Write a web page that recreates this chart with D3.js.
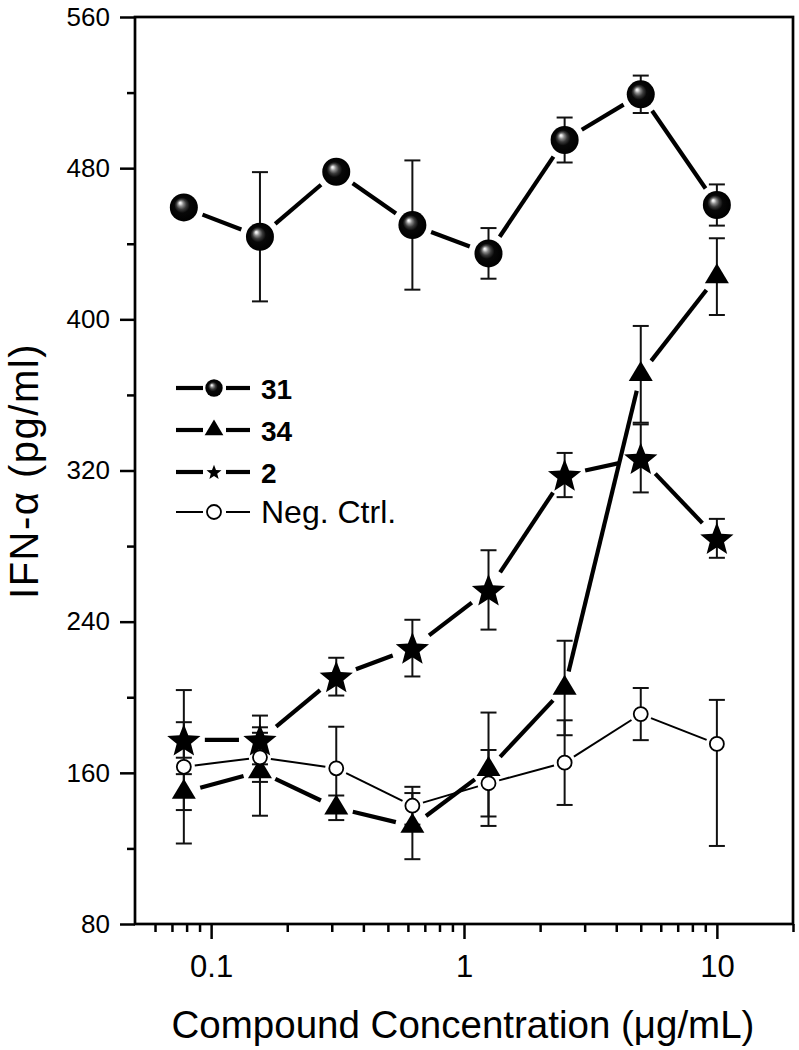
<!DOCTYPE html>
<html>
<head>
<meta charset="utf-8">
<script src="https://cdn.jsdelivr.net/npm/d3@7"></script>
<style>
  html, body { margin: 0; padding: 0; background: #fff; }
  svg { display: block; font-family: "Liberation Sans", Arial, Helvetica, sans-serif; }
</style>
</head>
<body>
<svg id="chart" width="799" height="1050"></svg>
<script>
// ---------- data ----------
const concentrations = [0.078, 0.156, 0.3125, 0.625, 1.25, 2.5, 5, 10];

const series31 = [459.2, 443.7, 478.1, 449.9, 434.9, 494.9, 519.1, 460.5];
const series31Err = [3.5, 34.2, 3, 34.2, 13.4, 11.9, 9.9, 10.9];

const series34 = [149.8, 160.7, 141.5, 131.8, 161.9, 204.9, 370.9, 422.6];
const series34Err = [9.5, 23.4, 6.5, 17.5, 30, 25, 25.6, 20.3];

const series2 = [177.4, 177.4, 210.9, 226, 256.8, 317.6, 326.4, 284.1];
const series2Err = [9.4, 12.9, 10, 15, 21, 11.7, 18, 10.3];

const seriesNeg = [163.2, 168.2, 162.4, 142.6, 154.5, 165.4, 191.1, 175.3];
const seriesNegErr = [40.6, 13, 22, 10, 17.6, 22.4, 13.8, 23.3];
const seriesNegErrLow = [40.6, 13, 22, 10, 17.6, 22.4, 13.8, 54];

const yMajorTicks = [80, 160, 240, 320, 400, 480, 560];
const yMinorTicks = [120, 200, 280, 360, 440, 520];
const xMajorTicks = [0.1, 1, 10];
const xMinorTicks = [0.06, 0.07, 0.08, 0.09, 0.2, 0.3, 0.4, 0.5, 0.6, 0.7, 0.8, 0.9,
                     2, 3, 4, 5, 6, 7, 8, 9, 20];
const legendLabels = ["31", "34", "2", "Neg. Ctrl."];

// ---------- setup ----------
const svg = d3.select("#chart");
const L = 135, R = 793, T = 17, B = 924;
const x = d3.scaleLog().domain([0.05, 20]).range([L, R]);
const y = d3.scaleLinear().domain([80, 560]).range([B, T]);

const defs = svg.append("defs");
const grad = defs.append("radialGradient").attr("id", "sphere")
  .attr("cx", 0.5).attr("cy", 0.5).attr("r", 0.5).attr("fx", 0.36).attr("fy", 0.33);
[[0, "#ffffff"], [0.08, "#e0e0e0"], [0.2, "#8a8a8a"], [0.36, "#3a3a3a"], [0.55, "#080808"], [1, "#000"]]
  .forEach(([o, c]) => grad.append("stop").attr("offset", o).attr("stop-color", c));

// ---------- axes ----------
const gx = svg.append("g").attr("transform", `translate(0,${B})`);
gx.call(d3.axisBottom(x).tickValues(xMajorTicks).tickSize(15).tickPadding(16)
  .tickSizeOuter(0).tickFormat(d => d3.format("~g")(d)));
gx.append("g").call(d3.axisBottom(x).tickValues(xMinorTicks).tickSize(8).tickFormat("").tickSizeOuter(0));
gx.selectAll(".domain").remove();
gx.selectAll("line").attr("stroke", "#000").attr("stroke-width", 2.5);
gx.selectAll("text").attr("font-size", 31).attr("fill", "#000");

const gy = svg.append("g").attr("transform", `translate(${L},0)`);
gy.call(d3.axisLeft(y).tickValues(yMajorTicks).tickSize(15).tickPadding(10)
  .tickSizeOuter(0).tickFormat(d3.format("d")));
gy.append("g").call(d3.axisLeft(y).tickValues(yMinorTicks).tickSize(8).tickFormat("").tickSizeOuter(0));
gy.selectAll(".domain").remove();
gy.selectAll("line").attr("stroke", "#000").attr("stroke-width", 2.5);
gy.selectAll("text").attr("font-size", 26).attr("fill", "#000");

svg.append("rect").attr("x", L).attr("y", T).attr("width", R - L).attr("height", B - T)
  .attr("fill", "none").attr("stroke", "#000").attr("stroke-width", 2.7);

// axis titles
svg.append("text").attr("x", 463).attr("y", 1038).attr("text-anchor", "middle")
  .attr("font-size", 38.5).text("Compound Concentration (μg/mL)");
svg.append("text").attr("transform", "translate(38,471) rotate(-90)").attr("text-anchor", "middle")
  .attr("font-size", 40).attr("letter-spacing", 1.5).text("IFN-α (pg/ml)");

// ---------- symbols ----------
function starPath(Ro, ratio) {
  const pts = [];
  for (let i = 0; i < 10; i++) {
    const r = i % 2 === 0 ? Ro : Ro * ratio;
    const a = -Math.PI / 2 + i * Math.PI / 5;
    pts.push([r * Math.cos(a), r * Math.sin(a)]);
  }
  return "M" + pts.map(p => p.join(",")).join("L") + "Z";
}
function triPath(w, h) {
  return `M0,${-2 * h / 3}L${w / 2},${h / 3}L${-w / 2},${h / 3}Z`;
}
function drawSymbol(g, type, cx, cy, scale) {
  const s = scale || 1;
  if (type === "sphere") {
    g.append("circle").attr("cx", cx).attr("cy", cy).attr("r", 14 * s).attr("fill", "url(#sphere)");
  } else if (type === "triangle") {
    g.append("path").attr("d", triPath(24 * s, 20 * s)).attr("transform", `translate(${cx},${cy})`)
      .attr("fill", "#000");
  } else if (type === "star") {
    g.append("path").attr("d", starPath(17.5 * s, 0.43)).attr("transform", `translate(${cx},${cy + 1.5 * s})`)
      .attr("fill", "#000");
  } else if (type === "circle") {
    g.append("circle").attr("cx", cx).attr("cy", cy).attr("r", 7).attr("fill", "#fff")
      .attr("stroke", "#000").attr("stroke-width", 1.8);
  }
}

const seriesDefs = [
  { vals: series2, err: series2Err, sym: "star", lw: 4.2, gap: 21 },
  { vals: series34, err: series34Err, sym: "triangle", lw: 4.2, gap: 17 },
  { vals: seriesNeg, err: seriesNegErr, errLow: seriesNegErrLow, sym: "circle", lw: 2, gap: 11 },
  { vals: series31, err: series31Err, sym: "sphere", lw: 4.2, gap: 20 }
];

const plot = svg.append("g");

function gappedSegments(g, pts, gap, lw) {
  for (let i = 0; i < pts.length - 1; i++) {
    const [x1, y1] = pts[i], [x2, y2] = pts[i + 1];
    const dx = x2 - x1, dy = y2 - y1, len = Math.hypot(dx, dy);
    if (len <= 2 * gap) continue;
    const ux = dx / len, uy = dy / len;
    g.append("line")
      .attr("x1", x1 + ux * gap).attr("y1", y1 + uy * gap)
      .attr("x2", x2 - ux * gap).attr("y2", y2 - uy * gap)
      .attr("stroke", "#000").attr("stroke-width", lw);
  }
}

// error bars first
seriesDefs.forEach(s => {
  const g = plot.append("g");
  const low = s.errLow || s.err;
  concentrations.forEach((c, i) => {
    const cx = x(c), yt = y(s.vals[i] + s.err[i]), yb = y(s.vals[i] - low[i]);
    g.append("line").attr("x1", cx).attr("x2", cx).attr("y1", yt).attr("y2", yb)
      .attr("stroke", "#111").attr("stroke-width", 2);
    [yt, yb].forEach(yy => g.append("line").attr("x1", cx - 8).attr("x2", cx + 8)
      .attr("y1", yy).attr("y2", yy).attr("stroke", "#111").attr("stroke-width", 2));
  });
});
// lines
seriesDefs.forEach(s => {
  const pts = concentrations.map((c, i) => [x(c), y(s.vals[i])]);
  gappedSegments(plot.append("g"), pts, s.gap, s.lw);
});
// markers
seriesDefs.forEach(s => {
  const g = plot.append("g");
  concentrations.forEach((c, i) => drawSymbol(g, s.sym, x(c), y(s.vals[i])));
});

// ---------- legend ----------
const legend = svg.append("g");
const legendSyms = ["sphere", "triangle", "star", "circle"];
const legendRows = [388, 430, 472, 512];
legendLabels.forEach((lab, i) => {
  const yy = legendRows[i];
  const lw = i < 3 ? 4.2 : 2;
  legend.append("line").attr("x1", 176).attr("x2", 203).attr("y1", yy).attr("y2", yy)
    .attr("stroke", "#000").attr("stroke-width", lw);
  legend.append("line").attr("x1", 226).attr("x2", 250).attr("y1", yy).attr("y2", yy)
    .attr("stroke", "#000").attr("stroke-width", lw);
  const sc = [0.62, 0.78, 0.45, 1][i];
  drawSymbol(legend, legendSyms[i], 214, yy, sc);
  legend.append("text").attr("x", 261).attr("y", yy + 10.5).attr("font-size", i < 3 ? 28 : 32)
    .attr("font-weight", i < 3 ? "bold" : "normal").text(lab);
});
</script>
</body>
</html>
